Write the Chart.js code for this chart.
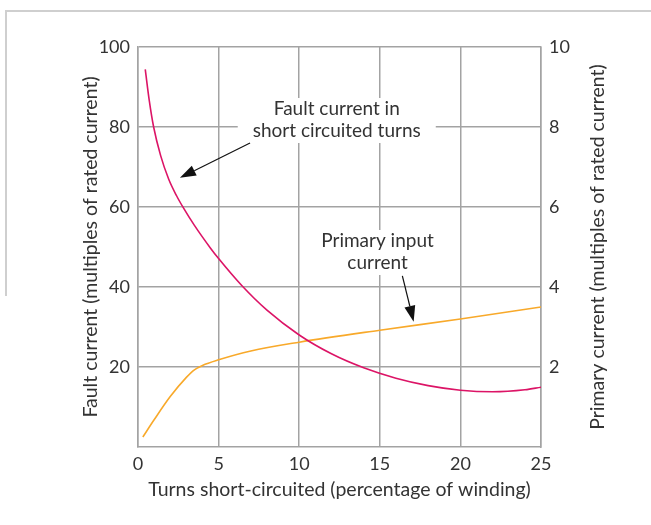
<!DOCTYPE html>
<html>
<head>
<meta charset="utf-8">
<script src="https://cdn.jsdelivr.net/npm/chart.js@4.4.0/dist/chart.umd.min.js"></script>
<style>
  body { margin: 0; background: #fff; }
  #wrap { width: 651px; height: 525px; }
</style>
</head>
<body>
<div id="wrap"><canvas id="myChart" width="651" height="525"></canvas></div>
<script>
// fault current in the shorted turns (left axis, multiples of rated current)
var faultX = [0.45, 0.7, 0.97, 1.4, 1.9, 2.4, 2.8, 3.5, 4.5, 5, 6.45, 8, 10, 12, 14, 16, 18, 20, 22, 24, 25];
var faultY = [94.4, 86.6, 80, 72.9, 67, 62.75, 59.9, 55.4, 49.7, 47.1, 40.3, 34.2, 28, 23.3, 19.8, 17.2, 15.35, 14.2, 13.8, 14.3, 14.95];

// primary input current (right axis)
var primX = [0.3, 1, 2, 3, 3.5, 4, 5, 7, 10, 15, 20, 25];
var primY = [0.25, 0.68, 1.26, 1.74, 1.93, 2.04, 2.18, 2.4, 2.62, 2.92, 3.2, 3.5];

var xTicks = [0, 5, 10, 15, 20, 25];
var leftTicks = [20, 40, 60, 80, 100];
var rightTicks = [2, 4, 6, 8, 10];

var FONT = "Lato";
var TXT = "#333333";
var GRID = "#a3a3a3";

function pts(xs, ys) {
  var out = [];
  for (var i = 0; i < xs.length; i++) out.push({x: xs[i], y: ys[i]});
  return out;
}

// annotation labels + arrows, anchored in data units (x, y = first baseline)
var notes = [
  {lines: ["Fault current in", "short circuited turns"], x: 12.33, y: 83, axis: "y",
   from: [6.95, 76], to: [2.6, 67.3]},
  {lines: ["Primary input", "current"], x: 14.86, y: 5.0, axis: "y2",
   from: [16.4, 4.28], to: [17.1, 3.13]}
];

function arrow(ctx, x1, y1, x2, y2) {
  var a = Math.atan2(y2 - y1, x2 - x1);
  var len = 16, w = 5.5;
  var bx = x2 - len * Math.cos(a), by = y2 - len * Math.sin(a);
  ctx.beginPath();
  ctx.moveTo(x1, y1);
  ctx.lineTo(bx, by);
  ctx.strokeStyle = "#111";
  ctx.lineWidth = 1.2;
  ctx.stroke();
  ctx.beginPath();
  ctx.moveTo(x2, y2);
  ctx.lineTo(bx + w * Math.sin(a), by - w * Math.cos(a));
  ctx.lineTo(bx - w * Math.sin(a), by + w * Math.cos(a));
  ctx.closePath();
  ctx.fillStyle = "#111";
  ctx.fill();
}

var extras = {
  id: "extras",
  beforeDraw: function(chart) {
    var ctx = chart.ctx;
    ctx.save();
    ctx.strokeStyle = "#cfcfcf";
    ctx.lineWidth = 2;
    ctx.beginPath();
    ctx.moveTo(6, 296);
    ctx.lineTo(6, 11);
    ctx.lineTo(651, 11);
    ctx.stroke();
    ctx.restore();
  },
  beforeDatasetsDraw: function(chart) {
    var ctx = chart.ctx;
    var sx = chart.scales.x;
    ctx.save();
    ctx.font = "19px " + FONT;
    ctx.textAlign = "center";
    ctx.textBaseline = "alphabetic";
    notes.forEach(function(n) {
      var sy = chart.scales[n.axis];
      var cx = sx.getPixelForValue(n.x), base = sy.getPixelForValue(n.y);
      var lh = 22;
      var wMax = 0;
      n.lines.forEach(function(l) { wMax = Math.max(wMax, ctx.measureText(l).width); });
      var top = base - 17, bot = base + lh * (n.lines.length - 1) + 6;
      ctx.fillStyle = "#fff";
      ctx.fillRect(cx - wMax / 2 - 15, top, wMax + 30, bot - top);
      ctx.fillStyle = TXT;
      n.lines.forEach(function(l, i) {
        ctx.fillText(l, cx, base + lh * i);
      });
      arrow(ctx, sx.getPixelForValue(n.from[0]), sy.getPixelForValue(n.from[1]),
                 sx.getPixelForValue(n.to[0]), sy.getPixelForValue(n.to[1]));
    });
    ctx.restore();
  },
  afterDraw: function(chart) {
    // right axis title reads bottom-to-top like the left one
    var ctx = chart.ctx, a = chart.chartArea;
    ctx.save();
    ctx.translate(598, (a.top + a.bottom) / 2);
    ctx.rotate(-Math.PI / 2);
    ctx.font = "19.5px " + FONT;
    ctx.fillStyle = TXT;
    ctx.textAlign = "center";
    ctx.textBaseline = "middle";
    ctx.fillText("Primary current (multiples of rated current)", 0, 0);
    ctx.restore();
  }
};

var ctx = document.getElementById("myChart").getContext("2d");
var myChart = new Chart(ctx, {
  type: "line",
  data: {
    datasets: [
      {
        label: "Fault current",
        data: pts(faultX, faultY),
        yAxisID: "y",
        borderColor: "#dc1466",
        borderWidth: 1.6,
        pointRadius: 0,
        fill: false,
        cubicInterpolationMode: "monotone"
      },
      {
        label: "Primary input current",
        data: pts(primX, primY),
        yAxisID: "y2",
        borderColor: "#f8a92a",
        borderWidth: 1.6,
        pointRadius: 0,
        fill: false,
        cubicInterpolationMode: "monotone"
      }
    ]
  },
  options: {
    responsive: false,
    animation: false,
    layout: { padding: { top: 47, right: 0, bottom: 0, left: 0 } },
    plugins: { legend: { display: false }, tooltip: { enabled: false } },
    scales: {
      x: {
        type: "linear",
        min: 0, max: 25,
        afterBuildTicks: function(s) { s.ticks = xTicks.map(function(v) { return {value: v}; }); },
        afterFit: function(s) { s.height = 78; },
        grid: { color: GRID, lineWidth: 1.5, drawTicks: false },
        border: { color: GRID, width: 1.5 },
        ticks: { color: TXT, font: { family: FONT, size: 18 }, padding: 6, maxRotation: 0 },
        title: { display: true, text: "Turns short-circuited (percentage of winding)",
                 color: TXT, font: { family: FONT, size: 19.5 }, padding: { top: 0, bottom: 24 } }
      },
      y: {
        position: "left",
        min: 0, max: 100,
        afterBuildTicks: function(s) { s.ticks = leftTicks.map(function(v) { return {value: v}; }); },
        afterFit: function(s) { s.width = 138; },
        grid: { color: GRID, lineWidth: 1.5, drawTicks: false },
        border: { color: GRID, width: 1.5 },
        ticks: { color: TXT, font: { family: FONT, size: 18 }, padding: 8 },
        title: { display: true, text: "Fault current (multiples of rated current)",
                 color: TXT, font: { family: FONT, size: 19.5 }, padding: { top: 79, bottom: 0 } }
      },
      y2: {
        position: "right",
        min: 0, max: 10,
        afterBuildTicks: function(s) { s.ticks = rightTicks.map(function(v) { return {value: v}; }); },
        afterFit: function(s) { s.width = 110; },
        grid: { drawOnChartArea: false, drawTicks: false },
        border: { color: GRID, width: 1.5 },
        ticks: { color: TXT, font: { family: FONT, size: 18 }, padding: 8 }
      }
    }
  },
  plugins: [extras]
});
</script>
</body>
</html>
